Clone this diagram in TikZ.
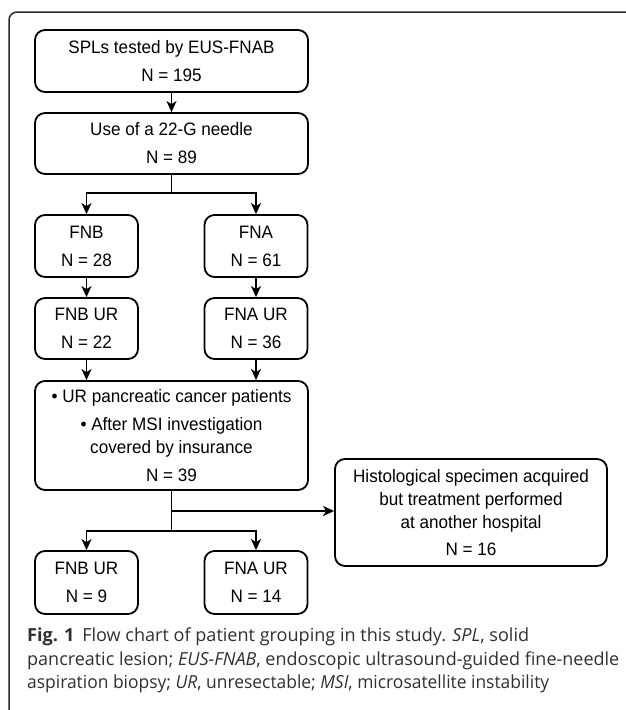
\documentclass[tikz,border=0pt]{standalone}
\usepackage{fontspec}
\usepackage{graphicx}
\usepackage{tikz}
\usetikzlibrary{arrows.meta}
\newfontfamily\boxfont[FakeStretch=0.95]{Liberation Sans}
\newfontfamily\capfont{Open Sans}
\definecolor{framegray}{HTML}{2A2A2A}
\definecolor{capgray}{HTML}{303030}

\begin{document}
\begin{tikzpicture}[x=1pt,y=-1pt,
  box/.style={draw=black, line width=1.8pt, rounded corners=10pt, inner sep=0pt,
    align=center, font=\boxfont\fontsize{18}{23}\selectfont},
  wide/.style={box, minimum width=273pt},
  small/.style={box, minimum width=103pt, minimum height=62pt},
  arr/.style={line width=1.6pt, -{Stealth[length=11pt,width=10pt,inset=3pt]}},
  stem/.style={line width=1.6pt}]

\useasboundingbox (0,0) rectangle (625,710);

% frame
\draw[framegray, line width=1.5pt, rounded corners=8pt] (630,12) -- (9,12) -- (9,715);

% nodes
{
\node[wide, minimum height=62pt] (spl) at (171.5,61)
{SPLs tested by EUS-FNAB\\[5pt] N = 195};

\node[wide, minimum height=61pt] (needle) at (171.5,143.5)
{Use of a 22-G needle\\[5pt] N = 89};

\node[small] (fnb) at (86.5,246) {FNB\\[5pt] N = 28};
\node[small] (fna) at (256,246) {FNA\\[5pt] N = 61};

\node[small, minimum height=61pt] (fnbur) at (86.5,328.5) {FNB UR\\[5pt] N = 22};
\node[small, minimum height=61pt] (fnaur) at (256,328.5) {FNA UR\\[5pt] N = 36};

\node[wide, minimum height=109pt] (cancer) at (171.5,435.5)
{• UR pancreatic cancer patients\\[5pt]
 • After MSI investigation\\ covered by insurance\\[5pt] N = 39};

\node[box, minimum width=272pt, minimum height=107pt] (hist) at (471,512.5)
{Histological specimen acquired\\ but treatment performed\\ at another hospital\\[4pt] N = 16};

\node[small, minimum height=63pt] (fnbur2) at (86.5,582.5) {FNB UR\\[5pt] N = 9};
\node[small, minimum height=63pt] (fnaur2) at (256,582.5) {FNA UR\\[5pt] N = 14};
}

\coordinate (fork1) at (171.5,193);
\coordinate (branch) at (171.5,511);
\coordinate (fork2) at (171.5,531);

% connectors
\draw[arr] (spl) -- (needle);
\draw[stem] (needle.south) -- (fork1);
\draw[arr] (fork1) -| (fnb.north);
\draw[arr] (fork1) -| (fna.north);
\draw[arr] (fnb) -- (fnbur);
\draw[arr] (fna) -- (fnaur);
\draw[arr] (fnbur.south) -- (fnbur.south |- cancer.north);
\draw[arr] (fnaur.south) -- (fnaur.south |- cancer.north);
\draw[stem] (cancer.south) -- (fork2);
\draw[arr] (branch) -- (branch -| hist.west);
\draw[arr] (fork2) -| (fnbur2.north);
\draw[arr] (fork2) -| (fnaur2.north);

% caption
\node[anchor=north west, inner sep=0pt, align=left, text=capgray,
  font=\capfont\fontsize{18}{23.5}\selectfont] (caption) at (27,628)
{\resizebox{502pt}{\height}{\textbf{Fig. 1}\hspace{3pt} Flow chart of patient grouping in this study. \textit{SPL}, solid}\\
\resizebox{592pt}{\height}{pancreatic lesion; \textit{EUS-FNAB}, endoscopic ultrasound-guided fine-needle}\\
\resizebox{522pt}{\height}{aspiration biopsy; \textit{UR}, unresectable; \textit{MSI}, microsatellite instability}};

\end{tikzpicture}
\end{document}
